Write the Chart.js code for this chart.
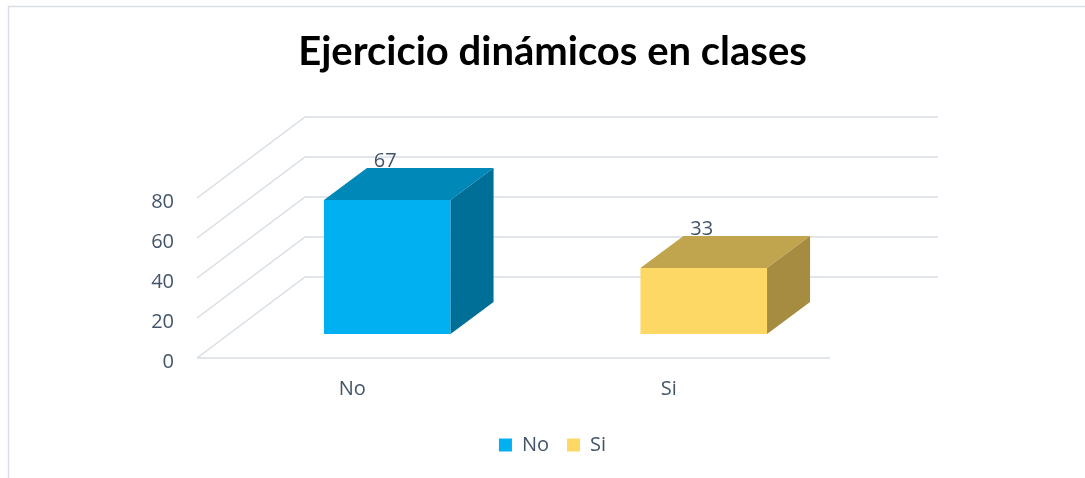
<!DOCTYPE html>
<html><head><meta charset="utf-8">
<script src="https://cdn.jsdelivr.net/npm/chart.js@4.4.1/dist/chart.umd.min.js"></script>
<style>html,body{margin:0;padding:0;background:#fff;} #wrap{position:relative;width:1085px;height:478px;} canvas{display:block;}</style>
</head><body>
<div id="wrap"><canvas id="c" width="1085" height="478"></canvas></div>
<script>
const titleText = 'Ejercicio dinámicos en clases';
const categories = ['No', 'Si'];
const values = [67, 33];
const yTicks = [0, 20, 40, 60, 80];
const frontColors = ['#00B0F0', '#FDD865'];
const topColors = ['#0088B9', '#C1A54E'];
const sideColors = ['#006F97', '#A58C40'];

const TEXT = '#44546A';
const GRID = '#D9DEE4';
const D_FRONT = {x: -32, y: 24};
const D_BACK = {x: 76, y: -57};
const D_BAR = {x: 43, y: -32};

Chart.defaults.font.family = '"Open Sans", sans-serif';

const threeD = {
  id: 'threeD',
  beforeDraw(chart) {
    const ctx = chart.ctx;
    ctx.save();
    ctx.fillStyle = '#fff';
    ctx.fillRect(0, 0, chart.width, chart.height);
    ctx.strokeStyle = GRID; ctx.lineWidth = 1.5;
    ctx.beginPath(); ctx.moveTo(8.5, chart.height); ctx.lineTo(8.5, 6.5); ctx.lineTo(chart.width, 6.5); ctx.stroke();
    ctx.restore();
  },
  beforeDatasetsDraw(chart) {
    const {ctx, chartArea: a, scales: {y}} = chart;
    ctx.save();
    ctx.strokeStyle = GRID; ctx.lineWidth = 1.5;
    y.ticks.forEach(t => {
      const py = y.getPixelForValue(t.value);
      ctx.beginPath();
      ctx.moveTo(a.left + D_FRONT.x, py + D_FRONT.y);
      ctx.lineTo(a.left + D_BACK.x, py + D_BACK.y);
      ctx.lineTo(a.right + D_BACK.x, py + D_BACK.y);
      ctx.stroke();
    });
    const p0 = y.getPixelForValue(0);
    ctx.beginPath();
    ctx.moveTo(a.left + D_FRONT.x, p0 + D_FRONT.y);
    ctx.lineTo(a.right + D_FRONT.x, p0 + D_FRONT.y);
    ctx.stroke();
    ctx.restore();
  },
  afterDatasetsDraw(chart) {
    const ctx = chart.ctx;
    const meta = chart.getDatasetMeta(0);
    const data = chart.data.datasets[0].data;
    ctx.save();
    meta.data.forEach((bar, i) => {
      const {x, y, base, width} = bar.getProps(['x', 'y', 'base', 'width'], true);
      const l = x - width / 2, r = x + width / 2;
      ctx.fillStyle = topColors[i];
      ctx.beginPath();
      ctx.moveTo(l, y); ctx.lineTo(l + D_BAR.x, y + D_BAR.y); ctx.lineTo(r + D_BAR.x, y + D_BAR.y); ctx.lineTo(r, y);
      ctx.closePath(); ctx.fill();
      ctx.fillStyle = sideColors[i];
      ctx.beginPath();
      ctx.moveTo(r, y); ctx.lineTo(r + D_BAR.x, y + D_BAR.y); ctx.lineTo(r + D_BAR.x, base + D_BAR.y); ctx.lineTo(r, base);
      ctx.closePath(); ctx.fill();
      ctx.fillStyle = TEXT;
      ctx.font = '20px "Open Sans", sans-serif';
      ctx.textAlign = 'center'; ctx.textBaseline = 'middle';
      ctx.fillText(String(data[i]), x - 2, y - 39);
    });
    ctx.restore();
  }
};

new Chart(document.getElementById('c'), {
  type: 'bar',
  data: {
    labels: categories,
    datasets: [{
      label: titleText,
      data: values,
      backgroundColor: frontColors,
      borderWidth: 0,
      categoryPercentage: 0.8,
      barPercentage: 0.5
    }]
  },
  options: {
    responsive: false,
    animation: false,
    layout: {padding: {left: 20, right: 0, top: 0, bottom: 13}},
    plugins: {
      title: {
        display: true, text: titleText, color: '#000',
        font: {family: 'Lato, "Open Sans", sans-serif', size: 40, weight: 'bold'},
        padding: {top: 28, bottom: 98}
      },
      legend: {
        position: 'bottom',
        onClick: null,
        labels: {
          boxWidth: 13, boxHeight: 13, padding: 18, color: TEXT, font: {size: 20},
          generateLabels(chart) {
            return chart.data.labels.map((l, i) => ({
              text: l, fillStyle: frontColors[i], strokeStyle: frontColors[i], lineWidth: 0,
              hidden: false, index: i, fontColor: TEXT
            }));
          }
        }
      },
      tooltip: {enabled: false}
    },
    scales: {
      x: {
        grid: {display: false, drawTicks: false}, border: {display: false},
        ticks: {color: TEXT, font: {size: 20}, padding: 43, labelOffset: -35},
        afterFit(s) { s.height = 83; }
      },
      y: {
        min: 0, max: 80,
        grid: {display: false, drawTicks: false}, border: {display: false},
        ticks: {stepSize: 20, color: TEXT, font: {size: 20}, padding: 55, labelOffset: 28},
        afterBuildTicks(s) { s.ticks = yTicks.map(v => ({value: v})); },
        afterFit(s) { s.width = 209; }
      },
      yR: {
        position: 'right', min: 0, max: 1,
        grid: {display: false}, border: {display: false}, ticks: {display: false},
        afterFit(s) { s.width = 223; }
      }
    }
  },
  plugins: [threeD]
});
</script>
</body></html>
